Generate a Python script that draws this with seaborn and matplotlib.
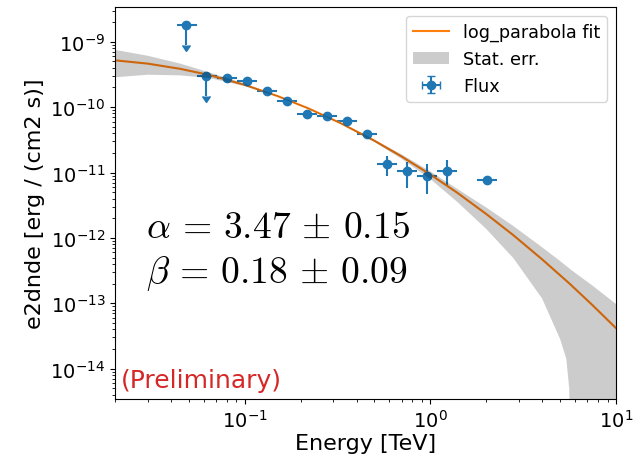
import numpy as np
import pandas as pd
import matplotlib
matplotlib.use("Agg")
import matplotlib.pyplot as plt
from matplotlib.lines import Line2D
from matplotlib.patches import Patch
import seaborn as sns

# ---------------- data ----------------
# flux points (TeV, erg / (cm2 s))
energy = [0.0485, 0.0622, 0.0798, 0.1023, 0.1312, 0.1683, 0.2158, 0.2767,
          0.3548, 0.455, 0.5834, 0.7482, 0.9594, 1.230, 2.023]
energy_min = [0.0429, 0.0550, 0.0705, 0.0904, 0.1159, 0.1486, 0.1905, 0.2443,
              0.3133, 0.4018, 0.5152, 0.6607, 0.8472, 1.0864, 1.786]
energy_max = [0.0550, 0.0705, 0.0904, 0.1159, 0.1486, 0.1905, 0.2443, 0.3133,
              0.4018, 0.5152, 0.6607, 0.8472, 1.0864, 1.393, 2.291]
e2dnde = [1.8e-9, 2.99e-10, 2.79e-10, 2.54e-10, 1.75e-10, 1.22e-10, 7.76e-11,
          7.31e-11, 6.19e-11, 3.85e-11, 1.35e-11, 1.04e-11, 8.93e-12,
          1.07e-11, 7.67e-12]
e2dnde_errn = [0.9e-9, 1.5e-10, 0.22e-10, 0.2e-10, 0.14e-10, 0.1e-10, 0.7e-11,
               0.7e-11, 0.6e-11, 0.45e-11, 0.48e-11, 0.45e-11, 4.24e-12,
               0.44e-11, 0.75e-12]
e2dnde_errp = [0.0, 0.0, 0.22e-10, 0.2e-10, 0.14e-10, 0.1e-10, 0.7e-11,
               0.7e-11, 0.6e-11, 0.45e-11, 0.46e-11, 0.39e-11, 4.6e-12,
               0.48e-11, 0.8e-12]
is_ul = [True, True, False, False, False, False, False, False, False, False,
         False, False, False, False, False]

# log-parabola fit curve
model_energy = [0.02, 0.03, 0.045, 0.065, 0.1, 0.15, 0.22, 0.33, 0.5, 0.7,
                1.0, 1.4, 2.0, 2.8, 4.0, 5.6, 7.5, 10.0]
model_e2dnde = [5.20e-10, 4.63e-10, 3.85e-10, 3.08e-10, 2.19e-10, 1.48e-10,
                9.59e-11, 5.65e-11, 3.06e-11, 1.76e-11, 9.33e-12, 4.88e-12,
                2.32e-12, 1.10e-12, 4.70e-13, 2.02e-13, 9.27e-14, 4.17e-14]

# statistical error band
band_energy = [0.02, 0.03, 0.045, 0.065, 0.1, 0.15, 0.22, 0.33, 0.5, 0.7,
               1.0, 1.4, 2.0, 2.8, 4.0, 5.0, 5.4, 5.6, 5.7, 7.5, 10.0]
band_lo = [2.86e-10, 3.13e-10, 3.06e-10, 2.77e-10, 2.09e-10, 1.45e-10,
           9.41e-11, 5.52e-11, 2.92e-11, 1.62e-11, 7.94e-12, 3.53e-12,
           1.37e-12, 4.91e-13, 1.18e-13, 2.84e-14, 1.41e-14, 4.9e-15,
           1e-16, 1e-16, 1e-16]
band_hi = [7.52e-10, 6.11e-10, 4.63e-10, 3.37e-10, 2.28e-10, 1.51e-10,
           9.77e-11, 5.78e-11, 3.19e-11, 1.89e-11, 1.04e-11, 5.60e-12,
           2.92e-12, 1.52e-12, 7.19e-13, 4.43e-13, 3.72e-13, 3.43e-13,
           3.28e-13, 1.85e-13, 9.77e-14]

x_label = "Energy [TeV]"
y_label = "e2dnde [erg / (cm2 s)]"
legend_labels = ["log_parabola fit", "Stat. err.", "Flux"]
alpha_text = r"$\alpha\,=\,3.47\,\pm\,0.15$"
beta_text = r"$\beta\,=\,0.18\,\pm\,0.09$"
prelim_text = "(Preliminary)"

# ---------------- figure ----------------
W, H = 634, 464
fig = plt.figure(figsize=(W / 100, H / 100), dpi=100)
ax = fig.add_axes([115 / W, 64 / H, 501 / W, 392 / H])
ax.set_xscale("log")
ax.set_yscale("log")

e = np.array(energy)
y = np.array(e2dnde)
xerr = np.vstack([e - np.array(energy_min), np.array(energy_max) - e])
yerr = np.vstack([e2dnde_errn, e2dnde_errp])
eb = ax.errorbar(e, y, xerr=xerr, yerr=yerr, uplims=np.array(is_ul),
                 fmt="o", color="C0", markersize=6, lw=1.5, zorder=2)

model_df = pd.DataFrame({"energy": model_energy, "e2dnde": model_e2dnde})
sns.lineplot(data=model_df, x="energy", y="e2dnde", ax=ax, color="C1",
             lw=1.5, zorder=2, sort=True, estimator=None)

ax.fill_between(band_energy, band_lo, band_hi, facecolor="black", alpha=0.2,
                linewidth=0, zorder=3)

ax.set_xlim(0.02, 10)
ax.set_ylim(3.44e-15, 3.4e-9)
ax.set_xlabel(x_label, fontsize=16, labelpad=2)
ax.set_ylabel(y_label, fontsize=16)
ax.tick_params(axis="both", which="major", labelsize=14)

handles = [Line2D([], [], color="C1", lw=1.5),
           Patch(facecolor="black", alpha=0.2, linewidth=0),
           eb]
ax.legend(handles, legend_labels, loc="upper right", fontsize=12.7)

ax.text(0.062, 0.4145, alpha_text, transform=ax.transAxes, fontsize=27,
        va="baseline", ha="left", math_fontfamily="cm")
ax.text(0.062, 0.299, beta_text, transform=ax.transAxes, fontsize=27,
        va="baseline", ha="left", math_fontfamily="cm")
ax.text(0.012, 0.03, prelim_text, transform=ax.transAxes, fontsize=18,
        color="#d62728", va="baseline", ha="left")

fig.savefig("out.png", dpi=100)
